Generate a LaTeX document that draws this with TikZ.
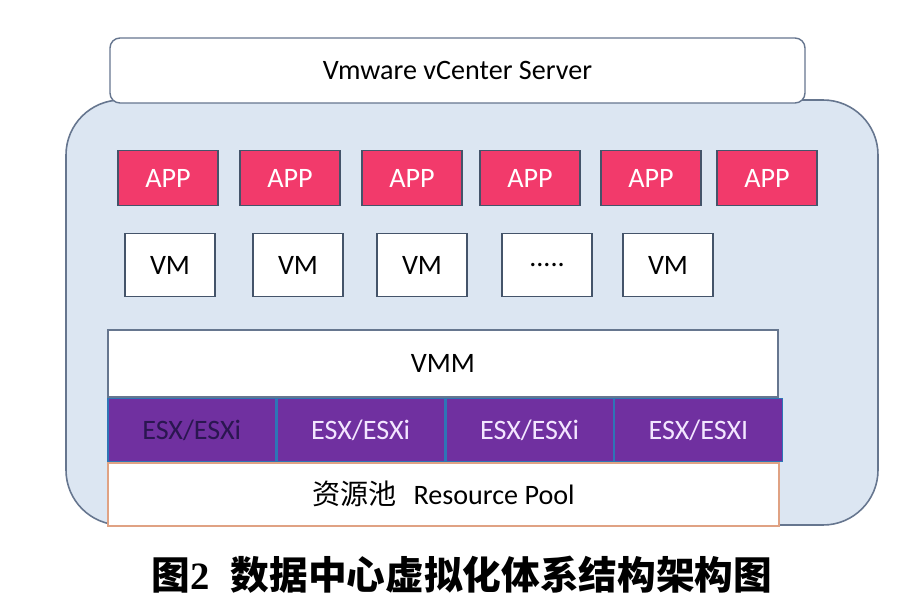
\documentclass[tikz,border=0pt]{standalone}
\usepackage{fontspec}
\setmainfont{Carlito}
\newfontfamily\cjk{Noto Sans CJK SC}
\newfontfamily\capserif{Liberation Serif}
\usetikzlibrary{positioning}
\definecolor{panelblue}{HTML}{DCE6F2}
\definecolor{panelline}{HTML}{66768F}
\definecolor{boxline}{HTML}{44546A}
\definecolor{apppink}{HTML}{F23A6B}
\definecolor{esxpurple}{HTML}{7030A0}
\definecolor{esxline}{HTML}{2E75B6}
\definecolor{esxtext}{HTML}{F3E6FF}
\definecolor{esxdark}{HTML}{2A1650}
\definecolor{poolline}{HTML}{E0A283}

\begin{document}
\begin{tikzpicture}[
        box/.style={draw=boxline, line width=0.8pt, inner sep=0pt, font=\fontsize{16}{16}\selectfont},
        panel/.style={draw=panelline, line width=0.9pt, fill=panelblue, rounded corners=1.1cm},
        appbox/.style={box, fill=apppink, text=white, minimum width=2cm, minimum height=1.1cm},
        vmbox/.style={box, fill=white, minimum width=1.8cm, minimum height=1.26cm},
        esxbox/.style={box, draw=esxline, fill=esxpurple, text=esxtext, minimum width=3.35cm, minimum height=1.26cm}
    ]
        \path[use as bounding box, fill=white] (0,0) rectangle (18.48,-12.1);
        \node[panel, minimum width=16.24cm, minimum height=8.5cm] (panel) at (9.44,-6.25) {};
        \node[box, draw=panelline, fill=white, rounded corners=0.2cm, minimum width=13.9cm, minimum height=1.3cm] (vc) at (9.15,-1.41) {Vmware vCenter Server};

        \node[appbox] (app1) at (3.36,-3.56) {APP};
        \node[appbox] (app2) at (5.8,-3.56) {APP};
        \node[appbox] (app3) at (8.24,-3.56) {APP};
        \node[appbox] (app4) at (10.6,-3.56) {APP};
        \node[appbox] (app5) at (13.02,-3.56) {APP};
        \node[appbox] (app6) at (15.34,-3.56) {APP};

        \node[vmbox] (vm1) at (3.4,-5.3) {VM};
        \node[vmbox] (vm2) at (5.96,-5.3) {VM};
        \node[vmbox] (vm3) at (8.44,-5.3) {VM};
        \node[vmbox] (vmdots) at (10.94,-5.3) {.....};
        \node[vmbox] (vm5) at (13.36,-5.3) {VM};

        \node[box, draw=panelline, fill=white, minimum width=13.4cm, minimum height=1.34cm] (vmm) at (8.86,-7.27) {VMM};
        \node[esxbox, text=esxdark, anchor=north west] (esx1) at (vmm.south west) {ESX/ESXi};
        \node[esxbox, right=0pt of esx1] (esx2) {ESX/ESXi};
        \node[esxbox, right=0pt of esx2] (esx3) {ESX/ESXi};
        \node[esxbox, right=0pt of esx3] (esx4) {ESX/ESXI};
        \node[box, draw=poolline, fill=white, anchor=north west, minimum width=13.42cm, minimum height=1.26cm] (pool) at (esx1.south west) {{\cjk 资源池}\hspace{0.6em}Resource Pool};

        \node[font=\fontsize{22}{22}\selectfont\bfseries] (caption) at (9.24,-11.5) {{\cjk 图}{\capserif 2}\hspace{12pt}{\cjk 数据中心虚拟化体系结构架构图}};
\end{tikzpicture}
\end{document}
